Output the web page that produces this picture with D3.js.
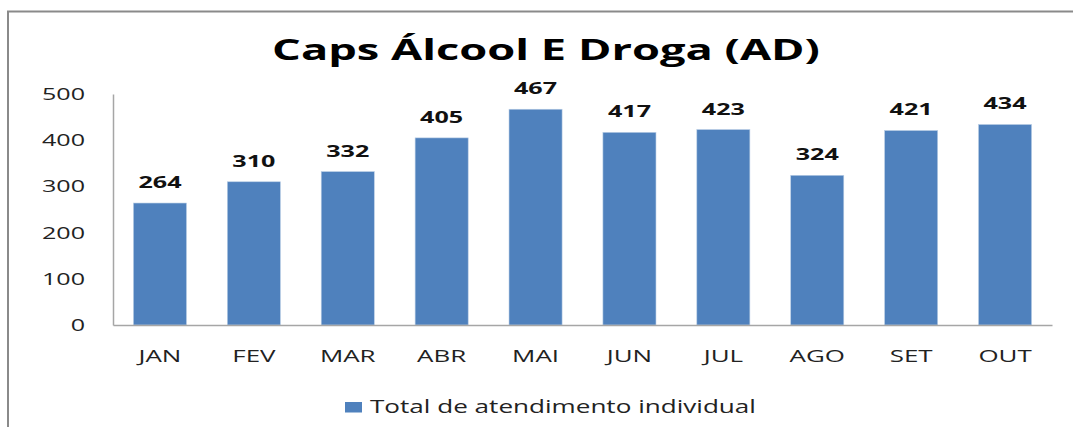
<!DOCTYPE html>
<html>
<head>
<meta charset="utf-8">
<script src="https://cdn.jsdelivr.net/npm/d3@7"></script>
<style>
  html, body { margin: 0; padding: 0; background: #fff; }
  svg { display: block; }
  text { font-family: "Open Sans", "DejaVu Sans", sans-serif; }
</style>
</head>
<body>
<div id="chart"></div>
<script>
// Monthly individual attendances at the CAPS AD
const months = ["JAN", "FEV", "MAR", "ABR", "MAI", "JUN", "JUL", "AGO", "SET", "OUT"];
const totals = [264, 310, 332, 405, 467, 417, 423, 324, 421, 434];
const yTicks = [0, 100, 200, 300, 400, 500];
const seriesName = "Total de atendimento individual";
const chartTitle = "Caps Álcool E Droga (AD)";

const W = 1073, H = 427;
const plot = { left: 113, right: 1052, top: 94, bottom: 325 };
const barColor = "#4F81BD";
const stretch = 1.62; // horizontal widening applied to all labels

const svg = d3.select("#chart").append("svg")
  .attr("width", W).attr("height", H);

// chart frame
svg.append("rect")
  .attr("x", 8).attr("y", 11.5)
  .attr("width", W + 20).attr("height", H + 20)
  .attr("fill", "none").attr("stroke", "#8a8a8a").attr("stroke-width", 2);

const x = d3.scaleBand().domain(months).range([plot.left, plot.right]).padding(0);
const y = d3.scaleLinear().domain([0, 500]).range([plot.bottom, plot.top]);
const barW = x.bandwidth() * 0.565;

// helper: text widened horizontally around its anchor point
function wideText(sel, tx, ty, sx) {
  return sel.attr("transform", (d, i) => `translate(${tx(d, i)},${ty(d, i)}) scale(${sx},1)`);
}

// title
wideText(svg.append("text").datum(chartTitle), () => 546, () => 60, 1.56)
  .attr("text-anchor", "middle")
  .attr("font-size", 29)
  .attr("font-weight", 700)
  .attr("fill", "#000")
  .text(d => d);

// bars
svg.append("g").selectAll("rect")
  .data(totals)
  .join("rect")
  .attr("x", (d, i) => x(months[i]) + (x.bandwidth() - barW) / 2)
  .attr("y", d => y(d))
  .attr("width", barW)
  .attr("height", d => y(0) - y(d))
  .attr("fill", barColor)
  .attr("stroke", "#b9cde5")
  .attr("stroke-width", 0.6);

// value labels
wideText(svg.append("g").selectAll("text").data(totals).join("text"),
    (d, i) => x(months[i]) + x.bandwidth() / 2, d => y(d) - 15, stretch)
  .attr("text-anchor", "middle")
  .attr("font-size", 15.5)
  .attr("font-weight", 700)
  .attr("fill", "#111")
  .text(d => d);

// y axis
const yAxis = svg.append("g")
  .attr("transform", `translate(${plot.left},0)`)
  .call(d3.axisLeft(y).tickValues(yTicks).tickSize(0).tickPadding(0).tickFormat(d3.format("d")));
yAxis.select(".domain").attr("stroke", "#a6a6a6").attr("stroke-width", 1.5);
yAxis.selectAll(".tick text").remove();
wideText(yAxis.selectAll(".tick").append("text"), () => -28, () => 5.5, stretch)
  .attr("text-anchor", "end")
  .attr("font-size", 15.5)
  .attr("fill", "#222")
  .text(d => d);

// x axis
const xAxis = svg.append("g")
  .attr("transform", `translate(0,${plot.bottom})`)
  .call(d3.axisBottom(x).tickSize(0).tickPadding(0));
xAxis.select(".domain").attr("stroke", "#a6a6a6").attr("stroke-width", 1.5);
xAxis.selectAll(".tick text").remove();
wideText(xAxis.selectAll(".tick").append("text"), () => 0, () => 37, stretch)
  .attr("text-anchor", "middle")
  .attr("font-size", 16)
  .attr("fill", "#222")
  .text(d => d);

// legend
const legend = svg.append("g").attr("transform", "translate(345,402)");
legend.append("rect").attr("width", 17).attr("height", 10.5).attr("fill", barColor);
wideText(legend.append("text").datum(seriesName), () => 25, () => 10.8, 1.45)
  .attr("font-size", 18)
  .attr("fill", "#222")
  .text(d => d);
</script>
</body>
</html>
